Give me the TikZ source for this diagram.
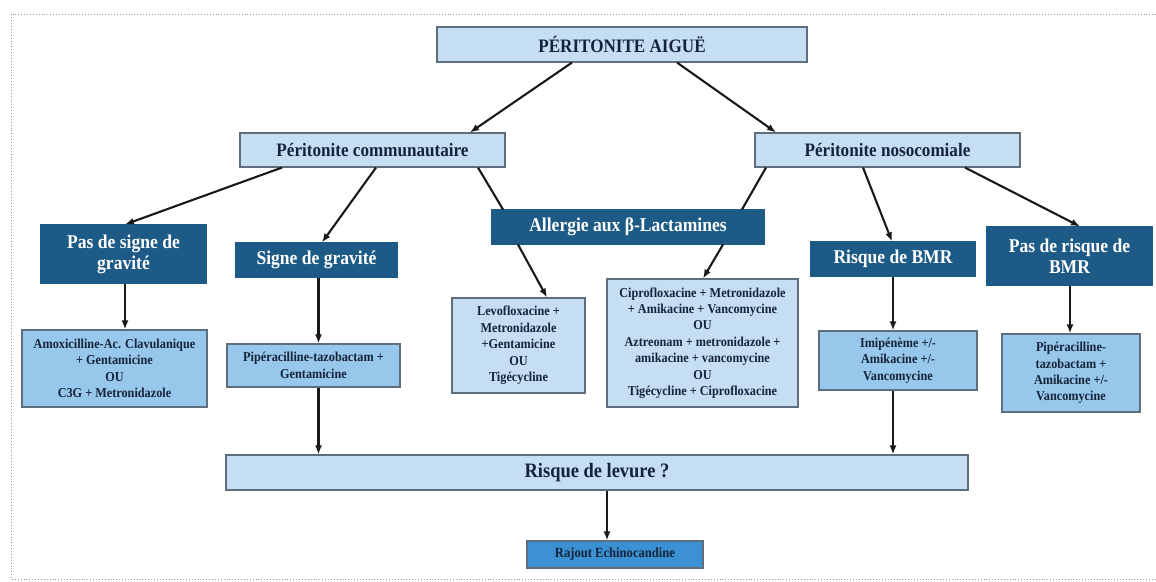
\documentclass[tikz,border=0pt]{standalone}
\usepackage{fontspec}
\setmainfont{Liberation Serif}[FakeStretch=0.9]
\usetikzlibrary{arrows.meta,shadows,calc}
\definecolor{lightbox}{HTML}{C6DEF2}
\definecolor{midbox}{HTML}{98C7EC}
\definecolor{darkbox}{HTML}{1D5A85}
\definecolor{rajoutbox}{HTML}{3C91D4}
\definecolor{boxline}{HTML}{5E6E7C}
\definecolor{txt}{HTML}{15243A}
\tikzset{
  base/.style={rectangle, inner sep=2pt, align=center, text=txt,
    draw=boxline, line width=1.1pt,
    drop shadow={shadow xshift=1.3pt, shadow yshift=-1.3pt, opacity=0.35}},
  lightb/.style={base, fill=lightbox},
  midb/.style={base, fill=midbox},
  darkb/.style={base, fill=darkbox, draw=darkbox, text=white},
  bigfont/.style={font=\fontsize{19.5}{21}\selectfont\bfseries},
  midfont/.style={font=\fontsize{19}{21}\selectfont\bfseries},
  smallfont/.style={font=\fontsize{13.6}{16.4}\selectfont\bfseries},
  arr/.style={-{Latex[length=9pt,width=7pt]}, line width=2.1pt, draw=black!90},
  plain/.style={line width=2.1pt, draw=black!90},
}
\begin{document}
\begin{tikzpicture}[x=1pt,y=-1pt]
\useasboundingbox (0,0) rectangle (1156,581);
\draw[dotted, gray!80, line width=0.9pt] (1156,14) -- (11,14) -- (11,579) -- (1156,579);

% level 0
\node[lightb, midfont, minimum width=370pt, minimum height=35pt] (top) at (622,44.5) {PÉRITONITE AIGUË};
% level 1
\node[lightb, midfont, minimum width=265pt, minimum height=34pt] (comm) at (372.5,150) {Péritonite communautaire};
\node[lightb, midfont, minimum width=265pt, minimum height=34pt] (noso) at (887.5,150) {Péritonite nosocomiale};
% level 2
\node[darkb, bigfont, minimum width=165pt, minimum height=58pt] (pas) at (123.5,254) {Pas de signe de\\gravité};
\node[darkb, bigfont, minimum width=161pt, minimum height=34pt] (signe) at (316.5,260) {Signe de gravité};
\node[darkb, bigfont, minimum width=272pt, minimum height=34pt] (allergie) at (628,227) {Allergie aux β-Lactamines};
\node[darkb, bigfont, minimum width=164pt, minimum height=34pt] (rbmr) at (893,259) {Risque de BMR};
\node[darkb, bigfont, minimum width=165pt, minimum height=58pt] (prbmr) at (1069.5,256) {Pas de risque de\\BMR};
% level 3
\node[midb, smallfont, minimum width=185pt, minimum height=77pt] (amox) at (114.5,368.5) {Amoxicilline-Ac. Clavulanique\\+ Gentamicine\\OU\\C3G + Metronidazole};
\node[midb, smallfont, minimum width=173pt, minimum height=43pt] (pip1) at (313.5,365.5) {Pipéracilline-tazobactam +\\Gentamicine};
\node[lightb, smallfont, minimum width=133pt, minimum height=95pt] (levo) at (518.5,345.5) {Levofloxacine +\\Metronidazole\\+Gentamicine\\OU\\Tigécycline};
\node[lightb, smallfont, minimum width=191pt, minimum height=128pt] (cipro) at (702.5,343) {Ciprofloxacine + Metronidazole\\+ Amikacine + Vancomycine\\OU\\Aztreonam + metronidazole +\\amikacine + vancomycine\\OU\\Tigécycline + Ciprofloxacine};
\node[midb, smallfont, minimum width=158pt, minimum height=59pt] (imi) at (898,360.5) {Imipénème +/-\\Amikacine +/-\\Vancomycine};
\node[midb, smallfont, minimum width=138pt, minimum height=78pt] (pip2) at (1071,373) {Pipéracilline-\\tazobactam +\\Amikacine +/-\\Vancomycine};
% level 4
\node[lightb, font=\fontsize{20.5}{22}\selectfont\bfseries, minimum width=742pt, minimum height=35pt] (levure) at (597,472.5) {Risque de levure ?};
\node[base, fill=rajoutbox, font=\fontsize{14}{16}\selectfont\bfseries, minimum width=176pt, minimum height=27pt] (rajout) at (615,554.5) {Rajout Echinocandine};

% connectors
\draw[arr] ([xshift=-50pt]top.south) -- ([xshift=97.5pt]comm.north);
\draw[arr] ([xshift=55pt]top.south) -- ([xshift=-111.5pt]noso.north);

\draw[arr] ([xshift=-90.5pt]comm.south) -- ([xshift=1.5pt]pas.north);
\draw[arr] ([xshift=3.5pt]comm.south) -- ([xshift=5.5pt]signe.north);
\draw[plain] ([xshift=105.5pt]comm.south) -- ([xshift=-125pt]allergie.north);
\draw[plain] ([xshift=-121.5pt]noso.south) -- ([xshift=114pt]allergie.north);
\draw[arr] ([xshift=-24.5pt]noso.south) -- ([xshift=-1pt]rbmr.north);
\draw[arr] ([xshift=77.5pt]noso.south) -- ([xshift=10.5pt]prbmr.north);

\draw[arr] ([xshift=-110pt]allergie.south) -- ([xshift=28.5pt]levo.north);
\draw[arr] ([xshift=95pt]allergie.south) -- ([xshift=0.5pt]cipro.north);

\draw[arr] ([xshift=1.5pt]pas.south) -- ([xshift=1.5pt]pas.south |- amox.north);
\draw[arr] ([xshift=2pt]signe.south) -- ([xshift=2pt]signe.south |- pip1.north);
\draw[arr] (rbmr.south) -- (rbmr.south |- imi.north);
\draw[arr] ([xshift=0.5pt]prbmr.south) -- ([xshift=0.5pt]prbmr.south |- pip2.north);

\draw[arr] ([xshift=5pt]pip1.south) -- ([xshift=5pt]pip1.south |- levure.north);
\draw[arr] ([xshift=-5pt]imi.south) -- ([xshift=-5pt]imi.south |- levure.north);
\draw[arr] (levure.south -| rajout.north) ++(-8pt,0) coordinate (lvr) -- (lvr |- rajout.north);
\end{tikzpicture}
\end{document}
